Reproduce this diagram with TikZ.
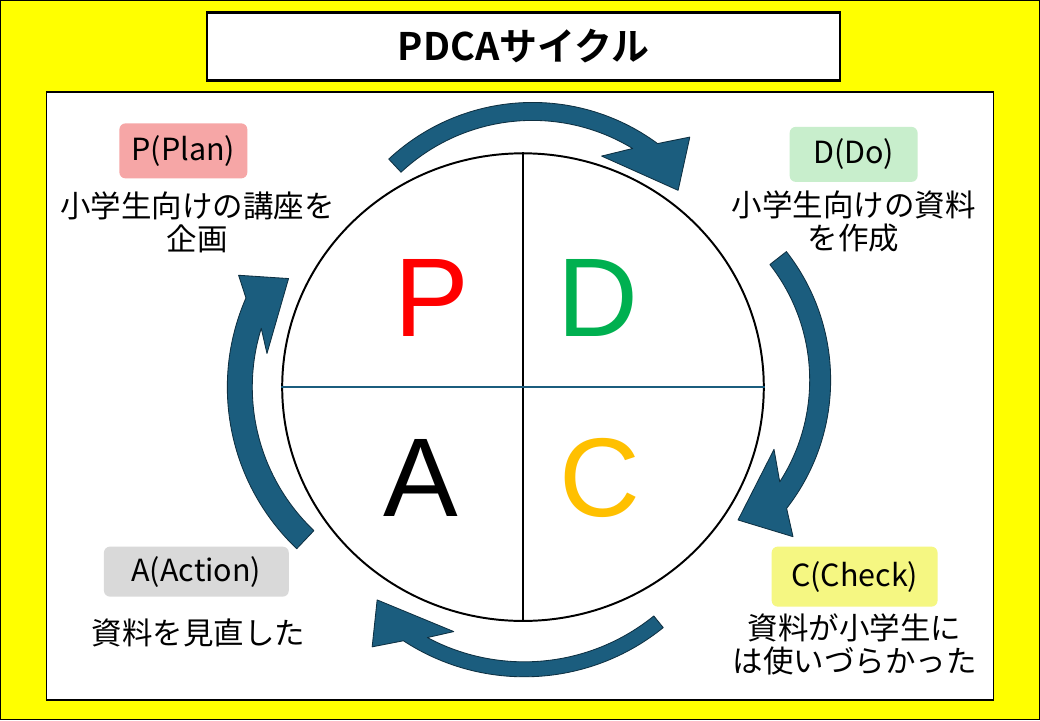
\documentclass[tikz,border=0pt]{standalone}
\usepackage{fontspec}
\setmainfont{Noto Sans CJK JP}[BoldFont={Noto Sans CJK JP Bold}]
\newfontfamily\bigfont{Liberation Sans}
\usetikzlibrary{calc, shapes.geometric}
\definecolor{cycblue}{RGB}{27,93,126}
\definecolor{cycedge}{RGB}{14,48,66}
\definecolor{planred}{RGB}{246,166,166}
\definecolor{dogreen}{RGB}{200,238,204}
\definecolor{checkyel}{RGB}{245,247,130}
\definecolor{actgray}{RGB}{217,217,217}
\definecolor{bigred}{RGB}{255,0,0}
\definecolor{biggreen}{RGB}{0,176,80}
\definecolor{bigorange}{RGB}{255,192,0}
\definecolor{backyel}{RGB}{255,255,0}
\tikzset{
  tag/.style={fill=#1, rounded corners=0.15cm, inner sep=0pt, font=\fontsize{21.7}{24}\selectfont},
  note/.style={align=center, inner sep=0pt, font=\fontsize{21.7}{23.5}\selectfont},
  letter/.style={text=#1, inner sep=0pt, font=\bigfont\fontsize{79.7}{80}\selectfont},
  cyc/.style={fill=cycblue, draw=cycedge, line width=0.6pt, line join=round}
}

\begin{document}
\begin{tikzpicture}[x=0.025cm, y=0.025cm]
  \fill[backyel, draw=black, line width=0.8pt] (0,0) rectangle (1040,720);
  \node[draw, fill=white, line width=1.6pt, minimum width=15.825cm, minimum height=1.7cm,
        font=\bfseries\fontsize{27}{30}\selectfont] (title) at (523.5,674) {PDCAサイクル};
  \draw[fill=white, line width=1.4pt] (46,20) rectangle (994,628);

  % the wheel
  \node[draw, ellipse, line width=1.4pt, minimum width=12.05cm, minimum height=11.7cm, inner sep=0pt] (wheel) at (523,333) {};
  \draw[line width=1pt] (wheel.north) -- (wheel.south);
  \draw[cycblue, line width=1pt] (wheel.west) -- (wheel.east);
  \node[letter=bigred] (bigP) at (432,422) {P};
  \node[letter=biggreen] (bigD) at (598,422) {D};
  \node[letter=black] (bigA) at (421,242) {A};
  \node[letter=bigorange] (bigC) at (600,242) {C};

  % arrows round the wheel
  \coordinate (ctop) at (532.5,407);
  \coordinate (cright) at (622,340);
  \coordinate (cbottom) at (524.3,264);
  \coordinate (cleft) at (450,333);
  \draw[cyc] ($(ctop)+(133:211)$) arc[start angle=133, end angle=53.6, radius=211] -- (690,583.3) -- (678.3,530) -- (601.7,564.3)
    -- ($(ctop)+(58.7:193)$) arc[start angle=58.7, end angle=133, radius=193] -- cycle;
  \draw[cyc] ($(cright)+(38:209)$) arc[start angle=38, end angle=-37.9, radius=209] -- (793.3,183.3) -- (738.3,200) -- (774.3,270.7)
    -- ($(cright)+(-32.8:188)$) arc[start angle=-32.8, end angle=38, radius=188] -- cycle;
  \draw[cyc] ($(cbottom)+(-51:221)$) arc[start angle=-51, end angle=-123.2, radius=221] -- (372,73) -- (377,120) -- (453.7,88.3)
    -- ($(cbottom)+(-118.1:206)$) arc[start angle=-118.1, end angle=-51, radius=206] -- cycle;
  \draw[cyc] ($(cleft)+(226.5:223)$) arc[start angle=226.5, end angle=156.4, radius=223] -- (238.3,445) -- (288.3,441.7) -- (266.7,366.7)
    -- ($(cleft)+(162.7:198)$) arc[start angle=162.7, end angle=226.5, radius=198] -- cycle;

  % labels
  \node[tag=planred, minimum width=3.2cm, minimum height=1.375cm] (plan) at (183,569.5) {P(Plan)};
  \node[note] (plantext) at (197,497.5) {小学生向けの講座を\\企画};
  \node[tag=dogreen, minimum width=3.2cm, minimum height=1.375cm] (do) at (854,566) {D(Do)};
  \node[note] (dotext) at (854,499) {小学生向けの資料\\を作成};
  \node[tag=checkyel, minimum width=4.15cm, minimum height=1.5cm] (check) at (855,143.3) {C(Check)};
  \node[note] (checktext) at (855,75) {資料が小学生に\\は使いづらかった};
  \node[tag=actgray, minimum width=4.625cm, minimum height=1.25cm] (act) at (196,148.3) {A(Action)};
  \node[note] (acttext) at (198,87) {資料を見直した};
\end{tikzpicture}
\end{document}
